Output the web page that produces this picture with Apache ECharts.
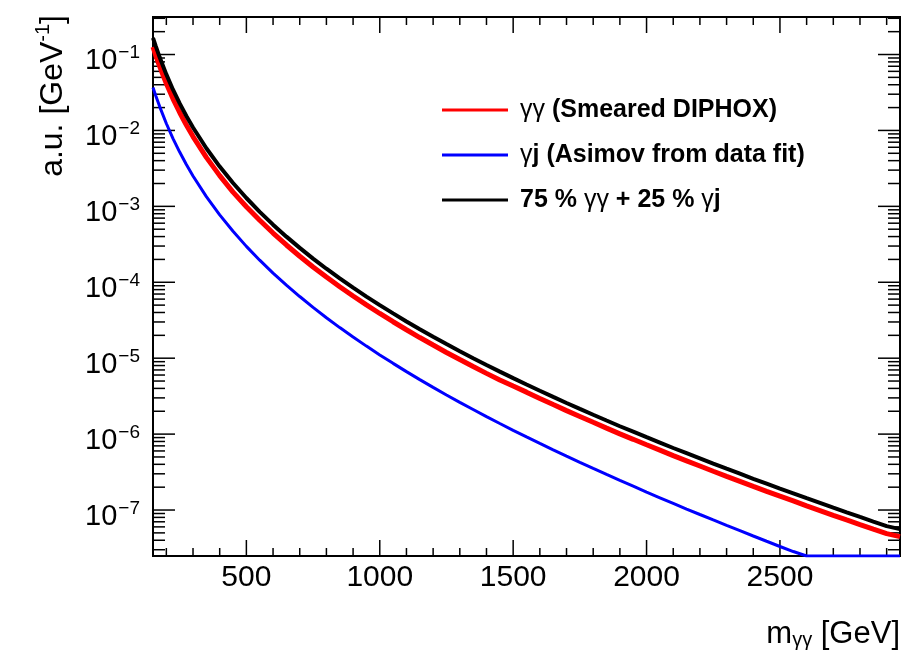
<!DOCTYPE html>
<html>
<head>
<meta charset="utf-8">
<script src="https://cdn.jsdelivr.net/npm/echarts@6/dist/echarts.min.js"></script>
<style>
html,body{margin:0;padding:0;background:#fff;}
#chart{width:916px;height:651px;}
</style>
</head>
<body>
<div id="chart"></div>
<script>
// ---- data ----
const massGeV = [150,160,175,200,225,250,275,300,350,400,450,500,550,600,650,700,750,800,850,900,
  950,1000,1050,1100,1150,1200,1250,1300,1350,1400,1450,1500,1550,1600,1650,1700,1750,1800,1850,1900,
  1950,2000,2050,2100,2150,2200,2250,2300,2350,2400,2450,2500,2550,2600,2650,2700,2750,2800,2850,2900,2950];

const diphotonSmeared = [0.126,0.0984,0.0697,0.0415,0.0261,0.01723,0.01178,8.30e-3,4.42e-3,2.54e-3,1.54e-3,9.89e-4,6.57e-4,4.45e-4,3.10e-4,2.20e-4,1.59e-4,1.17e-4,8.73e-5,6.59e-5,
  5.03e-5,3.88e-5,3.02e-5,2.37e-5,1.87e-5,1.49e-5,1.19e-5,9.59e-6,7.76e-6,6.31e-6,5.16e-6,4.29e-6,3.57e-6,2.95e-6,2.45e-6,2.04e-6,1.71e-6,1.43e-6,1.20e-6,1.008e-6,
  8.54e-7,7.23e-7,6.14e-7,5.21e-7,4.45e-7,3.80e-7,3.24e-7,2.78e-7,2.39e-7,2.05e-7,1.76e-7,1.52e-7,1.32e-7,1.135e-7,9.85e-8,8.53e-8,7.40e-8,6.43e-8,5.60e-8,4.88e-8,4.46e-8];

const photonJetAsimov = [3.68e-2,2.88e-2,2.06e-2,1.234e-2,7.82e-3,5.19e-3,3.56e-3,2.51e-3,1.343e-3,7.72e-4,4.69e-4,2.97e-4,1.954e-4,1.321e-4,9.16e-5,6.49e-5,4.67e-5,3.41e-5,2.53e-5,1.90e-5,
  1.442e-5,1.104e-5,8.55e-6,6.65e-6,5.22e-6,4.13e-6,3.28e-6,2.62e-6,2.11e-6,1.70e-6,1.38e-6,1.122e-6,9.18e-7,7.53e-7,6.21e-7,5.13e-7,4.25e-7,3.53e-7,2.94e-7,2.45e-7,
  2.06e-7,1.72e-7,1.45e-7,1.222e-7,1.031e-7,8.73e-8,7.40e-8,6.28e-8,5.35e-8,4.55e-8,3.88e-8,3.31e-8,2.84e-8,2.48e-8,2.48e-8,2.48e-8,2.48e-8,2.48e-8,2.48e-8,2.48e-8,2.48e-8];

const mixture = [0.166,0.1297,0.0918,0.0547,0.0344,0.0227,0.01552,0.01094,5.82e-3,3.34e-3,2.03e-3,1.288e-3,8.47e-4,5.74e-4,3.99e-4,2.84e-4,2.05e-4,1.508e-4,1.125e-4,8.49e-5,
  6.48e-5,5.0e-5,3.89e-5,3.05e-5,2.41e-5,1.92e-5,1.535e-5,1.236e-5,1.0e-5,8.13e-6,6.65e-6,5.46e-6,4.50e-6,3.72e-6,3.09e-6,2.57e-6,2.15e-6,1.80e-6,1.51e-6,1.27e-6,
  1.076e-6,9.10e-7,7.73e-7,6.56e-7,5.60e-7,4.78e-7,4.08e-7,3.50e-7,3.01e-7,2.58e-7,2.22e-7,1.91e-7,1.66e-7,1.43e-7,1.24e-7,1.074e-7,9.32e-8,8.10e-8,7.05e-8,6.14e-8,5.6e-8];

const seriesNames = ['γγ (Smeared DIPHOX)', 'γj (Asimov from data fit)', '75 % γγ + 25 % γj'];
const xTickLabels = [500, 1000, 1500, 2000, 2500];
const X_MIN = 150, X_MAX = 2950;
const Y_MIN = 2.48e-8, Y_MAX = 0.312;

// ---- axis tick positions (ROOT style: minor ticks every 100 GeV, log minor 2..9) ----
const xMinorTicks = [];
for (let v = 200; v <= 2900; v += 100) if (v % 500 !== 0) xMinorTicks.push(v);
const yMajorTicks = [], yMinorTicks = [];
for (let e = -8; e <= 0; e++) {
  const p = Math.pow(10, e);
  if (p >= Y_MIN && p <= Y_MAX) yMajorTicks.push(p);
  for (let k = 2; k <= 9; k++) { const v = k * p; if (v >= Y_MIN && v <= Y_MAX) yMinorTicks.push(v); }
}

const FONT = "'Liberation Sans', Arial, Helvetica, sans-serif";
const chart = echarts.init(document.getElementById('chart'), null, {renderer: 'canvas'});

const xTickData = [];
xTickLabels.forEach(v => { xTickData.push([v, Y_MIN, 16, -1]); xTickData.push([v, Y_MAX, 16, 1]); });
xMinorTicks.forEach(v => { xTickData.push([v, Y_MIN, 8, -1]); xTickData.push([v, Y_MAX, 8, 1]); });
const yTickData = [];
yMajorTicks.forEach(v => { yTickData.push([X_MIN, v, 22, 1]); yTickData.push([X_MAX, v, 22, -1]); });
yMinorTicks.forEach(v => { yTickData.push([X_MIN, v, 12, 1]); yTickData.push([X_MAX, v, 12, -1]); });

const pairs = arr => massGeV.map((m, i) => [m, arr[i]]);

const option = {
  backgroundColor: '#fff',
  animation: false,
  grid: {left: 153, right: 16, top: 17, bottom: 95, show: true, borderColor: '#000', borderWidth: 2, backgroundColor: 'transparent'},
  legend: {
    orient: 'vertical', left: 437, top: 90, itemWidth: 66, itemHeight: 3, itemGap: 15,
    icon: 'rect', selectedMode: false, data: seriesNames,
    formatter: n => n.replace(/(γ+)/g, '{g|$1}'),
    textStyle: {fontSize: 25, fontWeight: 'bold', fontFamily: FONT, color: '#000', lineHeight: 30, padding: [0, 0, 0, 7],
      rich: {g: {fontSize: 25, fontWeight: 'normal', fontFamily: FONT, color: '#000', lineHeight: 30}}}
  },
  xAxis: [{
    type: 'value', min: X_MIN, max: X_MAX, position: 'bottom',
    axisLine: {show: true, onZero: false, lineStyle: {color: '#000', width: 2}},
    axisTick: {show: false}, splitLine: {show: false},
    axisLabel: {fontSize: 30, fontFamily: FONT, color: '#000', margin: 7, showMinLabel: true, showMaxLabel: true,
      customValues: xTickLabels, formatter: v => String(v)},
    name: '{t|m}{u|γγ}{t| [GeV]}', nameLocation: 'end', nameGap: 0, nameMoveOverlap: false,
    nameTextStyle: {align: 'right', verticalAlign: 'top', padding: [58, 0, 0, 0],
      rich: {t: {fontSize: 31, fontFamily: FONT, color: '#000', lineHeight: 36, verticalAlign: 'bottom'},
             u: {fontSize: 20, fontFamily: FONT, color: '#000', lineHeight: 22, verticalAlign: 'bottom'}}}
  }, {
    type: 'value', min: X_MIN, max: X_MAX, position: 'top',
    axisLine: {show: true, onZero: false, lineStyle: {color: '#000', width: 2}},
    axisTick: {show: false}, axisLabel: {show: false}, splitLine: {show: false}
  }],
  yAxis: [{
    type: 'log', logBase: 10, min: Y_MIN, max: Y_MAX, position: 'left',
    axisLine: {show: true, onZero: false, lineStyle: {color: '#000', width: 2}},
    axisTick: {show: false}, splitLine: {show: false}, minorSplitLine: {show: false},
    axisLabel: {
      margin: 13, showMinLabel: false, showMaxLabel: false, padding: [8, 0, 0, 0],
      formatter: v => '{b|10}{s|\u2212' + (-Math.round(Math.log10(v))) + '}',
      rich: {b: {fontSize: 29, fontFamily: FONT, color: '#000', lineHeight: 34, verticalAlign: 'bottom'},
             s: {fontSize: 19, fontFamily: FONT, color: '#000', lineHeight: 34, verticalAlign: 'top', padding: [2, 0, 0, 1]}}
    },
    name: '{t|a.u. [GeV}{p|-1}{t|]}', nameLocation: 'end', nameRotate: 90, nameGap: 2, nameMoveOverlap: false,
    nameTextStyle: {align: 'right', verticalAlign: 'bottom', padding: [0, 0, 84, 0],
      rich: {t: {fontSize: 32, fontFamily: FONT, color: '#000', lineHeight: 36, verticalAlign: 'bottom'},
             p: {fontSize: 20, fontFamily: FONT, color: '#000', lineHeight: 36, verticalAlign: 'top'}}}
  }, {
    type: 'log', logBase: 10, min: Y_MIN, max: Y_MAX, position: 'right',
    axisLine: {show: true, onZero: false, lineStyle: {color: '#000', width: 2}},
    axisTick: {show: false}, axisLabel: {show: false}, splitLine: {show: false}
  }],
  series: [
    {type: 'custom', name: 'xticks', silent: true, xAxisIndex: 0, yAxisIndex: 0, data: xTickData, z: 1,
      renderItem: (params, api) => {
        const p = api.coord([api.value(0), api.value(1)]);
        const d = api.value(2) * api.value(3);
        return {type: 'line', shape: {x1: p[0], y1: p[1], x2: p[0], y2: p[1] + d}, style: {stroke: '#000', lineWidth: 1.5}};
      }},
    {type: 'custom', name: 'yticks', silent: true, xAxisIndex: 0, yAxisIndex: 0, data: yTickData, z: 1,
      renderItem: (params, api) => {
        const p = api.coord([api.value(0), api.value(1)]);
        const d = api.value(2) * api.value(3);
        return {type: 'line', shape: {x1: p[0], y1: p[1], x2: p[0] + d, y2: p[1]}, style: {stroke: '#000', lineWidth: 1.5}};
      }},
    {type: 'line', name: seriesNames[0], data: pairs(diphotonSmeared), symbol: 'none', showSymbol: false, z: 3,
      color: '#ff0000', lineStyle: {color: '#ff0000', width: 5}},
    {type: 'line', name: seriesNames[1], data: pairs(photonJetAsimov), symbol: 'none', showSymbol: false, z: 3,
      color: '#0000ff', lineStyle: {color: '#0000ff', width: 3}},
    {type: 'line', name: seriesNames[2], data: pairs(mixture), symbol: 'none', showSymbol: false, z: 3,
      color: '#000000', lineStyle: {color: '#000000', width: 4}}
  ]
};
chart.setOption(option);
</script>
</body>
</html>
